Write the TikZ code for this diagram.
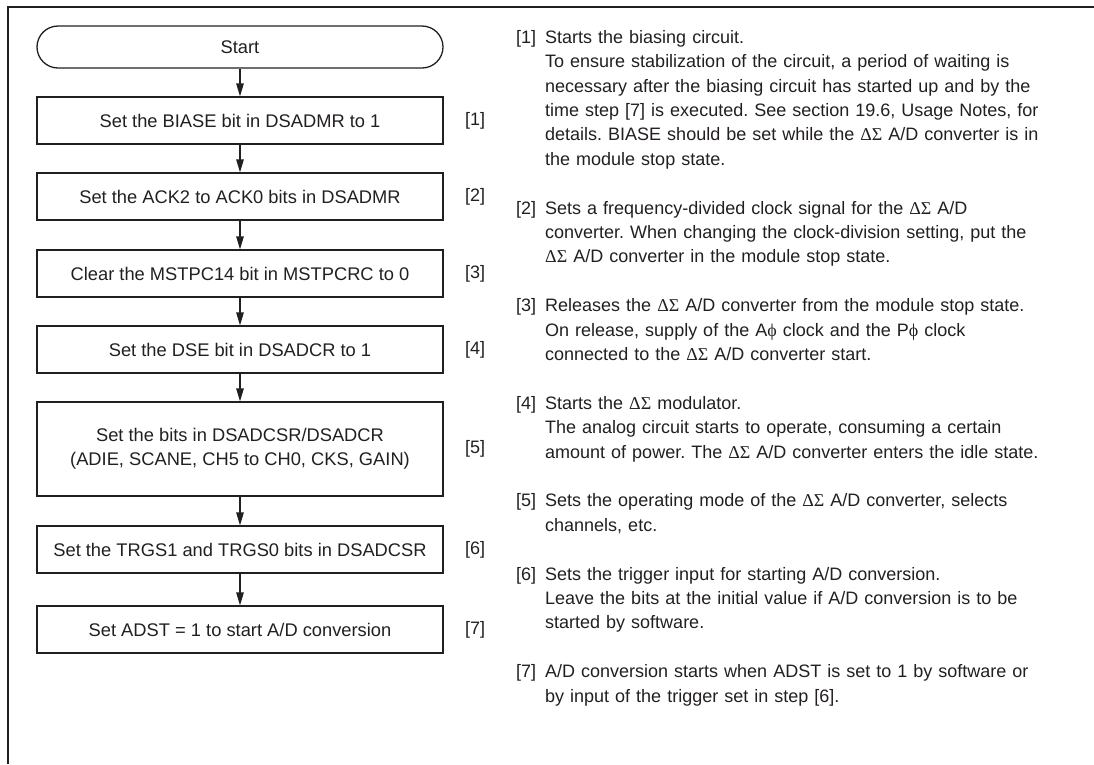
\documentclass[tikz,border=0pt]{standalone}
\usepackage{fontspec}
\setmainfont{Liberation Sans}
\newfontfamily\grk{Liberation Serif}
\usetikzlibrary{arrows.meta}
\definecolor{ink}{RGB}{35,31,32}
\newcommand{\DS}{{\grk ΔΣ}}
\newcommand{\phig}{{\grk ϕ}}
\frenchspacing
\begin{document}
\begin{tikzpicture}[x=1pt,y=-1pt,
  every node/.style={text=ink},
  stepbox/.style={draw=ink,line width=1.3pt,minimum width=406pt,minimum height=47pt,inner sep=0pt,align=center,font=\fontsize{18.3}{24}\selectfont},
  termbox/.style={stepbox,minimum height=42pt,rounded corners=21pt},
  tag/.style={anchor=west,inner sep=0pt,font=\fontsize{18}{24}\selectfont},
  para/.style={anchor=north west,inner sep=0pt,align=left,text width=540pt,font=\fontsize{18}{24.4}\selectfont},
  ptag/.style={anchor=north west,inner sep=0pt,font=\fontsize{18}{24.4}\selectfont},
  arr/.style={draw=ink,line width=1.3pt,-{Triangle[length=13pt,width=7.5pt]}}]
\useasboundingbox (0,0) rectangle (1094,764);
\draw[ink,line width=2.6pt] (8,764) -- (8,7) -- (1094,7);

\node[termbox] (s) at (240,47) {Start};
\node[stepbox] (b1) at (240,120.5) {Set the BIASE bit in DSADMR to 1};
\node[stepbox] (b2) at (240,196.5) {Set the ACK2 to ACK0 bits in DSADMR};
\node[stepbox] (b3) at (240,273.5) {Clear the MSTPC14 bit in MSTPCRC to 0};
\node[stepbox] (b4) at (240,349.5) {Set the DSE bit in DSADCR to 1};
\node[stepbox,minimum height=94pt] (b5) at (240,449) {Set the bits in DSADCSR/DSADCR\\(ADIE, SCANE, CH5 to CH0, CKS, GAIN)};
\node[stepbox] (b6) at (240,549.5) {Set the TRGS1 and TRGS0 bits in DSADCSR};
\node[stepbox] (b7) at (240,629.5) {Set ADST = 1 to start A/D conversion};

\node[tag] (t1) at (465,120.5) {[1]};
\node[tag] (t2) at (465,196.5) {[2]};
\node[tag] (t3) at (465,273.5) {[3]};
\node[tag] (t4) at (465,349.5) {[4]};
\node[tag] (t5) at (465,449) {[5]};
\node[tag] (t6) at (465,549.5) {[6]};
\node[tag] (t7) at (465,629.5) {[7]};

\draw[arr] (s) -- (b1);
\draw[arr] (b1) -- (b2);
\draw[arr] (b2) -- (b3);
\draw[arr] (b3) -- (b4);
\draw[arr] (b4) -- (b5);
\draw[arr] (b5) -- (b6);
\draw[arr] (b6) -- (b7);

\node[ptag] (n1) at (516,26) {\strut[1]};
\node[para] (p1) at (545,26) {\strut Starts the biasing circuit.\\
To ensure stabilization of the circuit, a period of waiting is\\
necessary after the biasing circuit has started up and by the\\
time step [7] is executed. See section 19.6, Usage Notes, for\\
details. BIASE should be set while the \DS{} A/D converter is in\\
the module stop state.};
\node[ptag] (n2) at (516,196.8) {\strut[2]};
\node[para] (p2) at (545,196.8) {\strut Sets a frequency-divided clock signal for the \DS{} A/D\\
converter. When changing the clock-division setting, put the\\
\DS{} A/D converter in the module stop state.};
\node[ptag] (n3) at (516,294.4) {\strut[3]};
\node[para] (p3) at (545,294.4) {\strut Releases the \DS{} A/D converter from the module stop state.\\
On release, supply of the A\phig{} clock and the P\phig{} clock\\
connected to the \DS{} A/D converter start.};
\node[ptag] (n4) at (516,392) {\strut[4]};
\node[para] (p4) at (545,392) {\strut Starts the \DS{} modulator.\\
The analog circuit starts to operate, consuming a certain\\
amount of power. The \DS{} A/D converter enters the idle state.};
\node[ptag] (n5) at (516,489.6) {\strut[5]};
\node[para] (p5) at (545,489.6) {\strut Sets the operating mode of the \DS{} A/D converter, selects\\
channels, etc.};
\node[ptag] (n6) at (516,562.8) {\strut[6]};
\node[para] (p6) at (545,562.8) {\strut Sets the trigger input for starting A/D conversion.\\
Leave the bits at the initial value if A/D conversion is to be\\
started by software.};
\node[ptag] (n7) at (516,660.4) {\strut[7]};
\node[para] (p7) at (545,660.4) {\strut A/D conversion starts when ADST is set to 1 by software or\\
by input of the trigger set in step [6].};
\end{tikzpicture}
\end{document}
